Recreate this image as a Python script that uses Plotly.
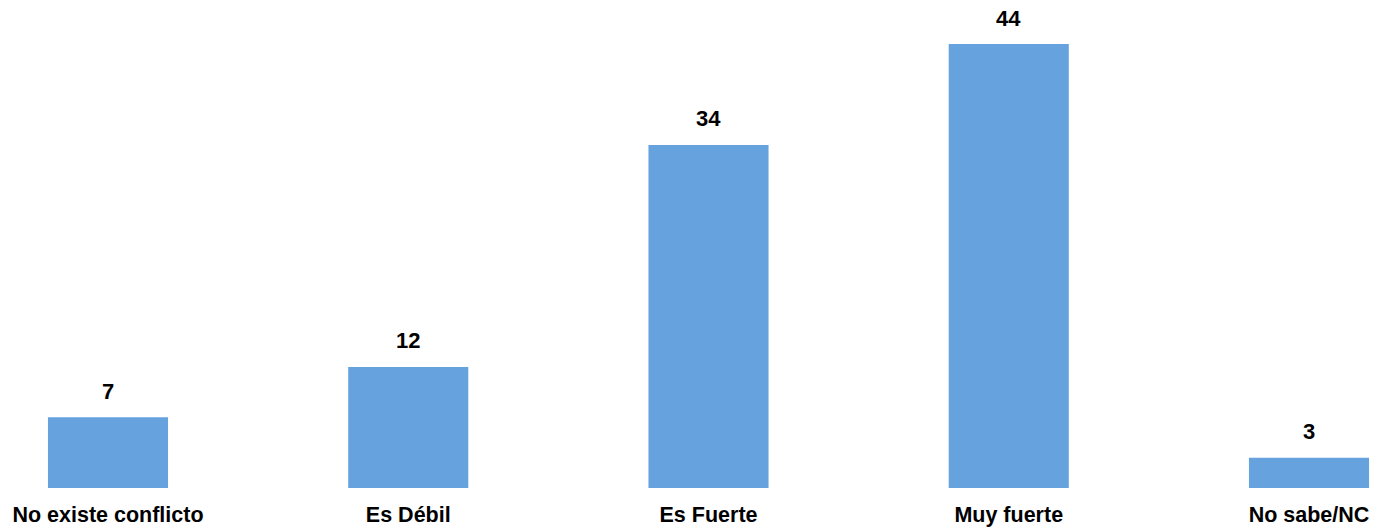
import plotly.graph_objects as go

categories = ["No existe conflicto", "Es Débil", "Es Fuerte", "Muy fuerte", "No sabe/NC"]
values = [7, 12, 34, 44, 3]
value_labels = ["7", "12", "34", "44", "3"]

fig = go.Figure()
fig.add_trace(go.Bar(
    x=list(range(len(categories))), y=values, width=0.4,
    marker=dict(color="#66A3DE", line=dict(width=0)),
    hoverinfo="skip",
))

for i, (v, t) in enumerate(zip(values, value_labels)):
    fig.add_annotation(x=i, y=v, text="<b>" + t + "</b>", showarrow=False,
                       yanchor="middle", yshift=26,
                       font=dict(family="Liberation Sans Narrow, Arial Narrow, Liberation Sans, Arial, sans-serif",
                                 size=22, color="#000000"))

fig.update_layout(
    width=1374, height=530,
    margin=dict(l=0, r=0, t=0, b=42, autoexpand=False),
    plot_bgcolor="white", paper_bgcolor="white",
    showlegend=False,
    xaxis=dict(range=[-0.3597, 4.2165], tickmode="array",
               tickvals=list(range(len(categories))),
               ticktext=["<b>" + c + "</b>" for c in categories],
               tickfont=dict(family="Liberation Sans, Arial, sans-serif", size=21.5, color="#000000"),
               showgrid=False, zeroline=False, showline=False, automargin=False,
               ticks="outside", ticklen=7, tickcolor="rgba(0,0,0,0)"),
    yaxis=dict(range=[0, 48.36], visible=False, showgrid=False, zeroline=False),
)

fig.write_html("out.html", config={"displayModeBar": False},
               post_script="document.body.style.margin='0';document.body.style.overflow='hidden';")
